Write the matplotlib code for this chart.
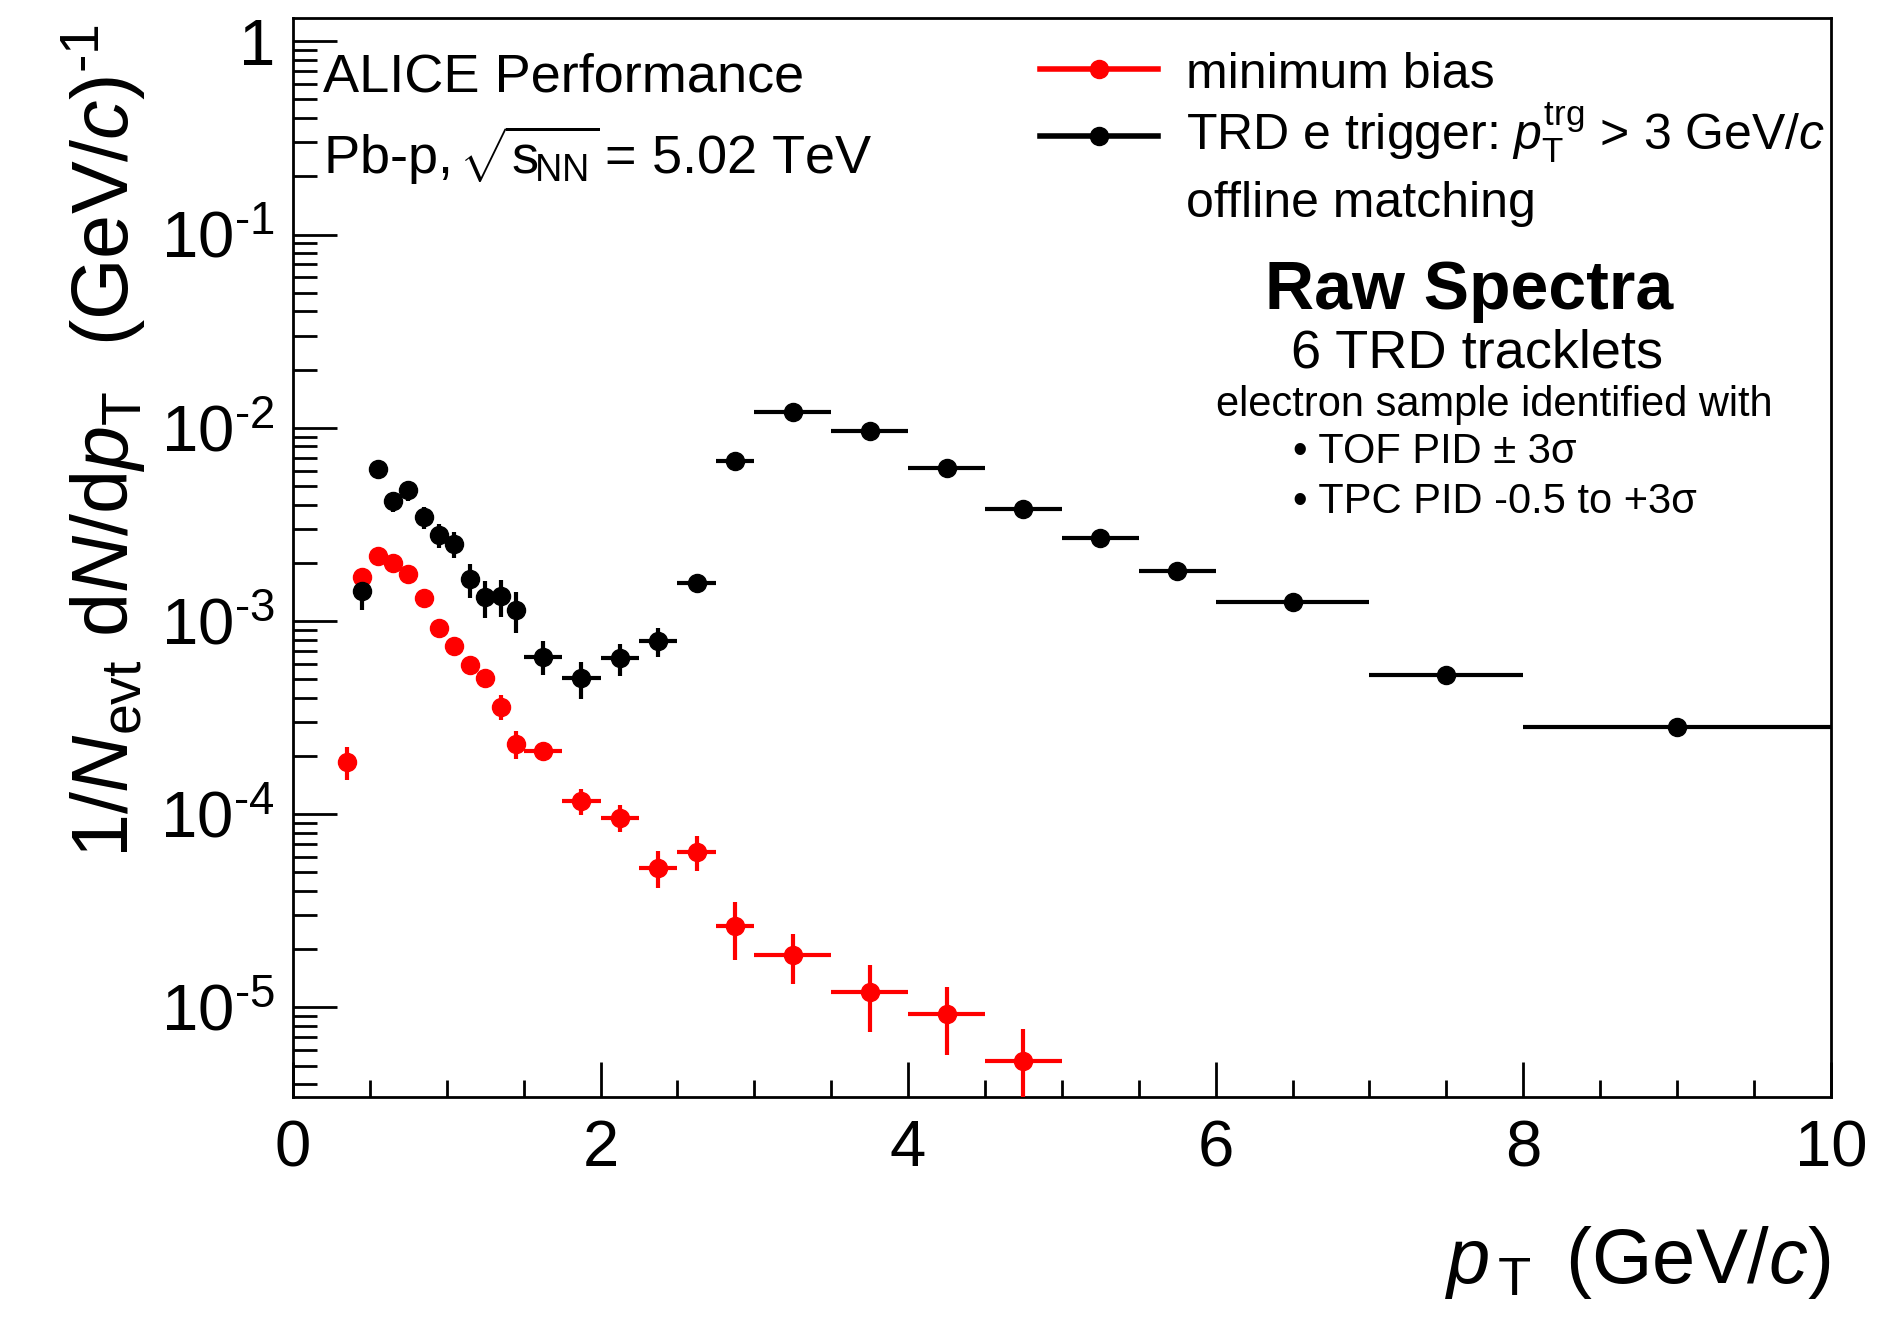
import matplotlib
matplotlib.use('Agg')
import matplotlib.pyplot as plt
from matplotlib.ticker import FixedLocator, FixedFormatter, MultipleLocator

plt.rcParams['font.family'] = ['Liberation Sans', 'DejaVu Sans']
plt.rcParams['mathtext.fontset'] = 'custom'
plt.rcParams['mathtext.rm'] = 'Liberation Sans'
plt.rcParams['mathtext.it'] = 'Liberation Sans:italic'
plt.rcParams['mathtext.bf'] = 'Liberation Sans:bold'
plt.rcParams['mathtext.sf'] = 'Liberation Sans'

# minimum bias spectrum (bin centre, half width, value, error)
pt_mb = [0.35, 0.45, 0.55, 0.65, 0.75, 0.85, 0.95, 1.05, 1.15, 1.25, 1.35, 1.45,
         1.625, 1.875, 2.125, 2.375, 2.625, 2.875, 3.25, 3.75, 4.25, 4.75]
dpt_mb = [0.05, 0.05, 0.05, 0.05, 0.05, 0.05, 0.05, 0.05, 0.05, 0.05, 0.05, 0.05,
          0.125, 0.125, 0.125, 0.125, 0.125, 0.125, 0.25, 0.25, 0.25, 0.25]
y_mb = [1.86e-4, 1.69e-3, 2.18e-3, 2.0e-3, 1.75e-3, 1.31e-3, 9.2e-4, 7.4e-4, 5.9e-4, 5.05e-4,
        3.6e-4, 2.32e-4, 2.12e-4, 1.17e-4, 9.6e-5, 5.3e-5, 6.4e-5, 2.65e-5, 1.86e-5, 1.2e-5,
        9.2e-6, 5.3e-6]
err_mb = [3.6e-5, 7e-5, 8e-5, 8e-5, 8e-5, 7e-5, 5.5e-5, 4.5e-5, 4.2e-5, 4e-5,
          5.2e-5, 3.9e-5, 1.7e-5, 1.75e-5, 1.55e-5, 1.15e-5, 1.3e-5, 8.8e-6, 5.4e-6, 4.5e-6,
          3.5e-6, 2.4e-6]

# TRD electron trigger spectrum
pt_trd = [0.45, 0.55, 0.65, 0.75, 0.85, 0.95, 1.05, 1.15, 1.25, 1.35, 1.45,
          1.625, 1.875, 2.125, 2.375, 2.625, 2.875, 3.25, 3.75, 4.25, 4.75, 5.25, 5.75,
          6.5, 7.5, 9.0]
dpt_trd = [0.05, 0.05, 0.05, 0.05, 0.05, 0.05, 0.05, 0.05, 0.05, 0.05, 0.05,
           0.125, 0.125, 0.125, 0.125, 0.125, 0.125, 0.25, 0.25, 0.25, 0.25, 0.25, 0.25,
           0.5, 0.5, 1.0]
y_trd = [1.43e-3, 6.1e-3, 4.17e-3, 4.74e-3, 3.46e-3, 2.77e-3, 2.51e-3, 1.64e-3, 1.33e-3, 1.34e-3,
         1.14e-3, 6.55e-4, 5.06e-4, 6.4e-4, 7.9e-4, 1.58e-3, 6.7e-3, 1.21e-2, 9.6e-3, 6.16e-3,
         3.79e-3, 2.69e-3, 1.82e-3, 1.25e-3, 5.28e-4, 2.84e-4]
err_trd = [2.9e-4, 3e-4, 5e-4, 5.7e-4, 4.5e-4, 3.9e-4, 3.8e-4, 3.3e-4, 2.9e-4, 2.9e-4,
           2.7e-4, 1.3e-4, 1.1e-4, 1.2e-4, 1.35e-4, 1.4e-4, 3.4e-4, 3.6e-4, 2.9e-4, 1.8e-4,
           1.1e-4, 8e-5, 5e-5, 3.5e-5, 1.5e-5, 8e-6]

ytick_vals = [1, 1e-1, 1e-2, 1e-3, 1e-4, 1e-5]
ytick_labels = ['1', r'$10^{\text{-}1}$', r'$10^{\text{-}2}$', r'$10^{\text{-}3}$',
                r'$10^{\text{-}4}$', r'$10^{\text{-}5}$']

fig = plt.figure(figsize=(18.91, 13.23), dpi=100)
ax = fig.add_axes([0.1549, 0.1708, 0.8133, 0.8156])

ms = 13
lw = 3
ax.errorbar(pt_mb, y_mb, xerr=dpt_mb, yerr=err_mb, fmt='o', color='#ff0000',
            ms=ms, elinewidth=lw, capsize=0, zorder=3)
ax.errorbar(pt_trd, y_trd, xerr=dpt_trd, yerr=err_trd, fmt='o', color='black',
            ms=ms, elinewidth=lw, capsize=0, zorder=3)

ax.set_yscale('log')
ax.set_xlim(0, 10)
ax.set_ylim(3.44e-6, 1.32)

# ROOT-like ticks: inside, left and bottom only
ax.yaxis.set_major_locator(FixedLocator(ytick_vals))
ax.yaxis.set_major_formatter(FixedFormatter(ytick_labels))
ax.xaxis.set_major_locator(MultipleLocator(2))
ax.xaxis.set_minor_locator(MultipleLocator(0.5))
ax.tick_params(which='both', direction='in', top=False, right=False, width=2)
ax.tick_params(axis='y', which='major', length=32, labelsize=47, pad=13)
ax.tick_params(axis='y', which='minor', length=17)
ax.tick_params(axis='x', which='major', length=25, labelsize=47, pad=16)
ax.tick_params(axis='x', which='minor', length=12)
for s in ax.spines.values():
    s.set_linewidth(2)

ax.set_xlabel(r'$p_{\,\mathrm{T}}\,$ (GeV/$c$)', fontsize=56, loc='right')
ax.xaxis.set_label_coords(1.0, -0.118)
ax.set_ylabel(r'$1/N_{\mathrm{evt}}\ \mathrm{d}N/\mathrm{d}p_{\mathrm{T}}\ \ (\mathrm{GeV}/c)^{\text{-}1}$',
              fontsize=57, loc='top')
ax.yaxis.set_label_coords(-0.094, 0.994)

# header
ax.text(0.0195, 0.932, 'ALICE Performance', transform=ax.transAxes, fontsize=39, va='baseline')
ax.text(0.0195, 0.855, r'Pb-p, $\!\sqrt{\mathrm{s}_{\!\mathrm{NN}}}\!$ = 5.02 TeV',
        transform=ax.transAxes, fontsize=39, va='baseline')

# legend
leg_x = [0.4857, 0.5624]
ax.plot(leg_x, [0.9527, 0.9527], color='#ff0000', lw=4, transform=ax.transAxes, clip_on=False)
ax.plot([sum(leg_x) / 2], [0.9527], 'o', color='#ff0000', ms=ms, transform=ax.transAxes, clip_on=False)
ax.plot(leg_x, [0.8906, 0.8906], color='black', lw=4, transform=ax.transAxes, clip_on=False)
ax.plot([sum(leg_x) / 2], [0.8906], 'o', color='black', ms=ms, transform=ax.transAxes, clip_on=False)
ax.text(0.5806, 0.935, 'minimum bias', transform=ax.transAxes, fontsize=36, va='baseline')
ax.text(0.5806, 0.878, r'TRD e trigger: $p_{\mathrm{T}}^{\mathrm{trg}}$ > 3 GeV/$c$',
        transform=ax.transAxes, fontsize=36, va='baseline')
ax.text(0.5806, 0.816, 'offline matching', transform=ax.transAxes, fontsize=36, va='baseline')

# description
ax.text(0.765, 0.730, 'Raw Spectra', transform=ax.transAxes, fontsize=49, fontweight='bold',
        ha='center', va='baseline')
ax.text(0.770, 0.676, '6 TRD tracklets', transform=ax.transAxes, fontsize=39,
        ha='center', va='baseline')
ax.text(0.781, 0.631, 'electron sample identified with', transform=ax.transAxes, fontsize=30,
        ha='center', va='baseline')
ax.text(0.650, 0.588, '\u2022 TOF PID \u00b1 3\u03c3', transform=ax.transAxes, fontsize=30, va='baseline')
ax.text(0.650, 0.541, '\u2022 TPC PID -0.5 to +3\u03c3', transform=ax.transAxes, fontsize=30, va='baseline')

fig.savefig('out.png', dpi=100)
